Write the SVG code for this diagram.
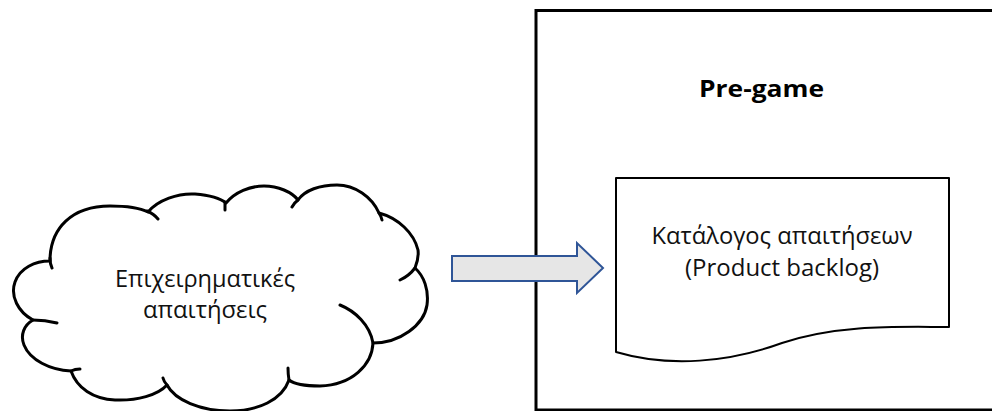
<svg xmlns="http://www.w3.org/2000/svg" width="992" height="411" viewBox="0 0 992 411">
  <style>
    .outline { fill: none; stroke: #000; stroke-width: 3; stroke-linecap: round; }
    .shape { fill: #fff; stroke: #000; stroke-linejoin: round; }
    .label { font-family: "Open Sans", "Noto Sans", "DejaVu Sans", sans-serif; font-size: 23px; fill: #111; text-anchor: middle; }
    .title { font-family: "Open Sans", "Noto Sans", "DejaVu Sans", sans-serif; font-size: 24px; font-weight: bold; fill: #000; }
    .flow { fill: #e6e6e6; stroke: #2f5597; stroke-width: 2; stroke-linejoin: miter; }
  </style>

  <rect width="992" height="411" fill="#fff"/>

  <!-- Pre-game phase frame -->
  <g id="pregame">
    <rect x="536" y="10.5" width="470" height="399.5" fill="none" stroke="#000" stroke-width="3"/>
    <text class="title" x="699" y="97" textLength="125" lengthAdjust="spacingAndGlyphs">Pre-game</text>
  </g>

  <!-- Business requirements cloud -->
  <g id="requirements">
    <path class="shape" stroke-width="3" d="M33,320
      C18,312 10,296 15,282 C20,268 35,261 50,261
      C50,228 72,206 110,206 C128,206 140,208 148,212
      C158,200 178,193 195,194 C208,195 220,198 226,203
      C235,192 250,186 264,186 C278,186 292,192 298,200
      C305,190 320,185 337,185 C355,185 372,197 379,213
      C398,218 414,233 418,250 C419,258 417,263 415,268
      C424,276 429,290 427,305 C424,325 400,343 373,343
      C372,365 352,385 320,386 C303,386 294,384 289,380
      C282,400 258,411 230,411 C200,411 175,400 167,385
      C158,395 137,401 115,400 C93,399 77,388 71,371
      C50,370 30,360 24,345 C20,335 24,325 33,320 Z"/>
    <path class="outline" d="M50,258 Q50,264 52,268
      M147,211 Q154,214 158,219
      M225,202 Q225,206 225,210
      M298,200 Q294,203 292,207
      M379,213 Q381,216 382,220
      M415,268 Q409,276 400,280
      M340,305 C355,311 370,325 373,343
      M289,380 Q288,374 288,368
      M167,385 Q164,382 163,378
      M71,371 Q75,369 80,369
      M33,320 Q45,320 57,323"/>
    <text class="label" x="205" y="287" textLength="180" lengthAdjust="spacingAndGlyphs">Επιχειρηματικές</text>
    <text class="label" x="205" y="318" textLength="124" lengthAdjust="spacingAndGlyphs">απαιτήσεις</text>
  </g>

  <!-- Product backlog document -->
  <g id="backlog">
    <path class="shape" stroke-width="2" d="M616,178 H949 V327 C900,327 840,324 782,343 C730,362 670,368 616,352 Z"/>
    <text class="label" x="782" y="244" textLength="261" lengthAdjust="spacingAndGlyphs">Κατάλογος απαιτήσεων</text>
    <text class="label" x="782" y="276" textLength="194" lengthAdjust="spacingAndGlyphs">(Product backlog)</text>
  </g>

  <!-- Connectors -->
  <g id="connectors">
    <polygon class="flow" points="452,256 577,256 577,243 603,268 577,293 577,281 452,281"/>
  </g>
</svg>
